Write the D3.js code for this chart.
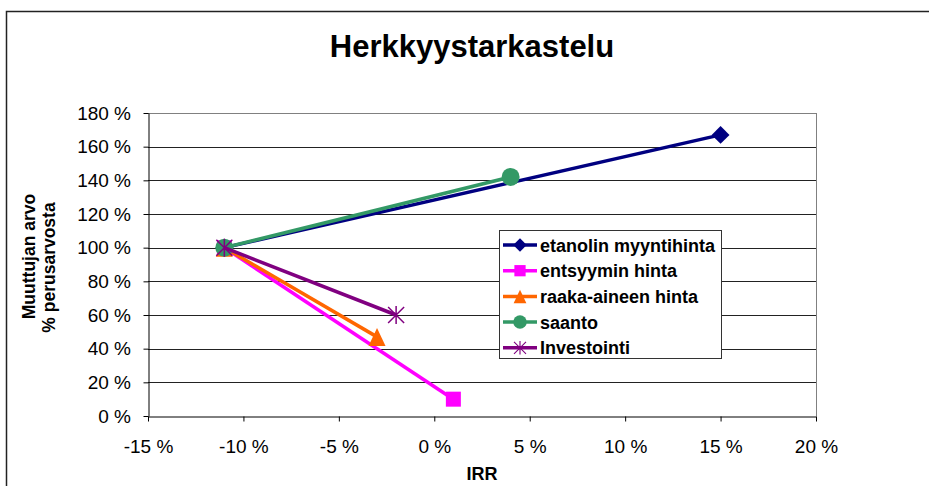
<!DOCTYPE html>
<html>
<head>
<meta charset="utf-8">
<script src="https://cdn.jsdelivr.net/npm/d3@7"></script>
<style>
  body { margin: 0; background: #fff; }
  svg { display: block; font-family: Arial, "Liberation Sans", sans-serif; }
</style>
</head>
<body>
<svg id="chart" width="929" height="486"></svg>
<script>
// sarjojen nimet ja arvot (IRR %, muuttujan arvo %)
var seriesNames = ["etanolin myyntihinta", "entsyymin hinta", "raaka-aineen hinta", "saanto", "Investointi"];
var seriesColors = ["#000080", "#FF00FF", "#FF6600", "#339966", "#800080"];
var seriesMarkers = ["diamond", "square", "triangle", "circle", "star"];
var irrValues = [
  [-11, 15],
  [-11, 1],
  [-11, -3],
  [-11, 4],
  [-11, -2]
];
var varValues = [
  [100, 167],
  [100, 10],
  [100, 47],
  [100, 142],
  [100, 60]
];
var xTicks = [-15, -10, -5, 0, 5, 10, 15, 20];
var yTicks = [0, 20, 40, 60, 80, 100, 120, 140, 160, 180];

var svg = d3.select("#chart");

// ulkokehys
svg.append("rect")
  .attr("x", 6.5).attr("y", 11.5)
  .attr("width", 940).attr("height", 490)
  .attr("fill", "none").attr("stroke", "#222").attr("stroke-width", 1.5);

var pLeft = 148, pRight = 816, pTop = 113, pBottom = 416;

var x = d3.scaleLinear().domain([-15, 20]).range([pLeft, pRight]);
var y = d3.scaleLinear().domain([0, 180]).range([pBottom, pTop]);

// otsikko
svg.append("text")
  .attr("x", 472).attr("y", 57)
  .attr("text-anchor", "middle")
  .style("font-size", "31px").style("font-weight", "bold")
  .text("Herkkyystarkastelu");

// ruudukko
svg.append("g").selectAll("line")
  .data(yTicks.filter(d => d > 0))
  .enter().append("line")
  .attr("x1", pLeft).attr("x2", pRight)
  .attr("y1", d => Math.round(y(d)) + 0.5).attr("y2", d => Math.round(y(d)) + 0.5)
  .attr("stroke", "#222").attr("stroke-width", 1);

// piirtoalueen reunat ylä ja oikea
svg.append("line").attr("x1", pLeft).attr("x2", pRight + 0.5).attr("y1", pTop + 0.5).attr("y2", pTop + 0.5)
  .attr("stroke", "#808080");
svg.append("line").attr("x1", pRight + 0.5).attr("x2", pRight + 0.5).attr("y1", pTop).attr("y2", pBottom)
  .attr("stroke", "#808080");

// akselit
var xAxis = d3.axisBottom(x).tickValues(xTicks).tickSize(5).tickSizeOuter(0)
  .tickFormat(d => (d < 0 ? "-" + Math.abs(d) : d) + " %");
var gx = svg.append("g").attr("transform", "translate(0," + (pBottom + 0.5) + ")").call(xAxis);
gx.select(".domain").attr("stroke", "#000");
gx.selectAll(".tick line").attr("stroke", "#000");
gx.selectAll("text").style("font-size", "19px").attr("fill", "#000").attr("y", 23).attr("dy", "0.71em");

var yAxis = d3.axisLeft(y).tickValues(yTicks).tickSize(5).tickSizeOuter(0)
  .tickFormat(d => d + " %");
var gy = svg.append("g").attr("transform", "translate(" + (pLeft + 0.5) + ",0)").call(yAxis);
gy.select(".domain").attr("stroke", "#000");
gy.selectAll(".tick line").attr("stroke", "#000");
gy.selectAll("text").style("font-size", "19px").attr("fill", "#000").attr("x", -17.5);

// akselien otsikot
svg.append("text")
  .attr("x", 482).attr("y", 480)
  .attr("text-anchor", "middle")
  .style("font-size", "18px").style("font-weight", "bold")
  .text("IRR");

svg.append("text")
  .attr("transform", "translate(35,256.5) rotate(-90)")
  .attr("text-anchor", "middle")
  .style("font-size", "17.5px").style("font-weight", "bold")
  .text("Muuttujan arvo");
svg.append("text")
  .attr("transform", "translate(55,267.5) rotate(-90)")
  .attr("text-anchor", "middle")
  .style("font-size", "17.5px").style("font-weight", "bold")
  .text("% perusarvosta");

// merkit
function drawMarker(g, type, cx, cy, color) {
  if (type === "diamond") {
    g.append("path").attr("d", d3.symbol(d3.symbolSquare, 160)())
      .attr("transform", "translate(" + cx + "," + cy + ") rotate(45)").attr("fill", color);
  } else if (type === "square") {
    g.append("rect").attr("x", cx - 7.5).attr("y", cy - 7.5).attr("width", 15).attr("height", 15).attr("fill", color);
  } else if (type === "triangle") {
    g.append("path").attr("d", "M0,-9L8.5,9L-8.5,9Z")
      .attr("transform", "translate(" + cx + "," + cy + ")").attr("fill", color);
  } else if (type === "circle") {
    g.append("circle").attr("cx", cx).attr("cy", cy).attr("r", 9).attr("fill", color);
  } else if (type === "star") {
    g.append("path").attr("d", "M-8,-8L8,8M-8,8L8,-8M0,-9L0,9")
      .attr("transform", "translate(" + cx + "," + cy + ")")
      .attr("stroke", color).attr("stroke-width", 1.5).attr("fill", "none");
  }
}

var line = d3.line().x(d => x(d[0])).y(d => y(d[1]));
seriesNames.forEach(function(name, i) {
  var pts = irrValues[i].map((v, j) => [v, varValues[i][j]]);
  var g = svg.append("g");
  g.append("path").datum(pts).attr("d", line)
    .attr("fill", "none").attr("stroke", seriesColors[i]).attr("stroke-width", 3.5);
  pts.forEach(p => drawMarker(g, seriesMarkers[i], x(p[0]), y(p[1]), seriesColors[i]));
});

// selite
var lg = svg.append("g");
lg.append("rect").attr("x", 499.5).attr("y", 230.5).attr("width", 222).attr("height", 128)
  .attr("fill", "#fff").attr("stroke", "#333").attr("stroke-width", 1);
seriesNames.forEach(function(name, i) {
  var ry = 245 + i * 25.7;
  lg.append("line").attr("x1", 503).attr("x2", 537).attr("y1", ry).attr("y2", ry)
    .attr("stroke", seriesColors[i]).attr("stroke-width", 3.5);
  var s = lg.append("g").attr("transform", "translate(520," + ry + ") scale(0.75)");
  drawMarker(s, seriesMarkers[i], 0, 0, seriesColors[i]);
  lg.append("text").attr("x", 540).attr("y", ry + 6.5)
    .style("font-size", "18px").style("font-weight", "bold").text(name);
});
</script>
</body>
</html>
